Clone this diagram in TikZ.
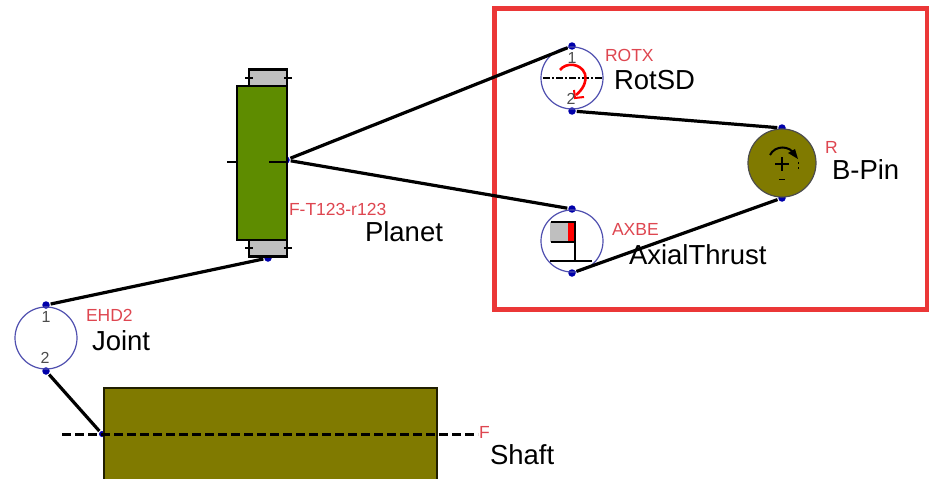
\documentclass[tikz,border=0pt]{standalone}
\usepackage{fontspec}
\setmainfont{Liberation Sans}
\usepackage{tikz}
\definecolor{olivebody}{RGB}{128,122,0}
\definecolor{greenbody}{RGB}{94,140,0}
\definecolor{framered}{RGB}{235,55,55}
\definecolor{tagred}{RGB}{222,70,80}
\definecolor{ringblue}{RGB}{80,80,175}
\definecolor{dotblue}{RGB}{0,0,170}

\begin{document}
\begin{tikzpicture} [x=1pt, y=-1pt, line width = 2pt,
port/.style={circle, fill=dotblue, inner sep=0pt, minimum size=7.5pt},
ring/.style={circle, draw=ringblue, line width=1.2pt, inner sep=0pt, minimum size=62pt},
body/.style={draw, line width=2.4pt, inner sep=0pt, minimum width=#1},
tag/.style={text=tagred, anchor=west, inner sep=0pt, font=\fontsize{17.5}{17.5}\selectfont},
caption/.style={anchor=west, inner sep=0pt, font=\fontsize{27.5}{27.5}\selectfont},
digit/.style={text=black!70, inner sep=0pt, font=\fontsize{16}{16}\selectfont},
tick/.style={line width=2pt},
link/.style={line width=3.2pt}]
\useasboundingbox (0,0) rectangle (929,479);
\draw[color=framered, line width=5pt] (494,8) rectangle (927,309);

\node[port] (planetout) at (286,160) {};
\node[port] (planetin) at (268,258) {};
\node[port] (rotone) at (572,46) {};
\node[port] (rottwo) at (572,111) {};
\node[port] (axone) at (572,209) {};
\node[port] (axtwo) at (572,273) {};
\node[port] (pinone) at (782,128) {};
\node[port] (pintwo) at (782,198) {};
\node[port] (jointone) at (46,305) {};
\node[port] (jointtwo) at (46,371) {};
\node[port, minimum size=6pt] (shaftin) at (102,434) {};

% planet
\node[body=38pt, fill=black!25, minimum height=17pt] (gearup) at (268,78) {};
\node[body=38pt, fill=black!25, minimum height=17pt] (geardown) at (268,248) {};
\node[body=50pt, fill=greenbody, minimum height=154pt] (planet) at (262,163) {};
\draw[tick] (245,78) -- (253,78);
\draw[tick] (284,78) -- (292,78);
\draw[tick] (245,248) -- (253,248);
\draw[tick] (284,248) -- (292,248);
\draw[tick] (227,162) -- (237,162);
\draw[line width=2.6pt] (269,162) -- (286,162);

% shaft
\fill[olivebody] (104,388) rectangle (437,479);
\draw[line width=2pt, color=black!75!olivebody] (104,479) -- (104,388) -- (437,388) -- (437,479);
\draw[dash pattern=on 9pt off 4pt, line width=3pt] (62,434) -- (478,434);

% joint
\node[ring] (joint) at (46,338) {};
\node[digit] at (46,317) {1};
\node[digit] at (45,358) {2};

% rotsd
\node[ring] (rot) at (572,78) {};
\draw[dash pattern=on 7pt off 2pt on 2pt off 2pt, line width=2pt] (543,78) -- (603,78);
\draw[color=red, line width=2.6pt] (560,70) .. controls (566,62) and (581,63) .. (585,74) .. controls (587,83) and (582,90) .. (576,95);
\draw[color=red, line width=2pt] (574,90) -- (575,98) -- (584,97);
\node[digit] at (572,58) {1};
\node[digit] at (571,99) {2};

% axial
\node[ring] (axial) at (572,241) {};
\fill[black!25] (550,222) rectangle (568,242);
\fill[red] (568,222) rectangle (575,242);
\draw[tick] (551,222) -- (575,222) -- (575,261);
\draw[tick] (551,242) -- (575,242);
\draw[tick] (550,261) -- (592,261);

% pin
\node[circle, draw=black!70, fill=olivebody, line width=1.2pt, inner sep=0pt, minimum size=68pt] (pin) at (782,163) {};
\draw[tick] (770,155) .. controls (775,145) and (790,145) .. (795,155);
\fill (798,159) -- (788,153) -- (795,149) -- cycle;
\draw[tick] (775,164) -- (789,164);
\draw[tick] (782,157) -- (782,171);
\draw[line width=1pt] (779,179) -- (785,179);
\draw[line width=0.7pt] (798,162) -- (798,164);
\draw[line width=0.7pt] (798,167) -- (798,169);

% links
\draw[link] (jointone) -- (planetin);
\draw[link] (jointtwo) -- (shaftin);
\draw[link] (planetout) -- (rotone);
\draw[link] (planetout) -- (axone);
\draw[link] (rottwo) -- (pinone);
\draw[link] (axtwo) -- (pintwo);

% labels
\node[tag] (rottag) at (604,55) {ROTX};
\node[caption] (rotname) at (613,80) {RotSD};
\node[tag] (axtag) at (611,229) {AXBE};
\node[caption] (axname) at (628,255) {AxialThrust};
\node[tag] (pintag) at (824,147) {R};
\node[caption] (pinname) at (831,170) {B-Pin};
\node[tag] (planettag) at (288,209) {F-T123-r123};
\node[caption] (planetname) at (364,232) {Planet};
\node[tag] (jointtag) at (85,315) {EHD2};
\node[caption] (jointname) at (91,341) {Joint};
\node[tag] (shafttag) at (478,432) {F};
\node[caption] (shaftname) at (489,455) {Shaft};
\end{tikzpicture}
\end{document}
